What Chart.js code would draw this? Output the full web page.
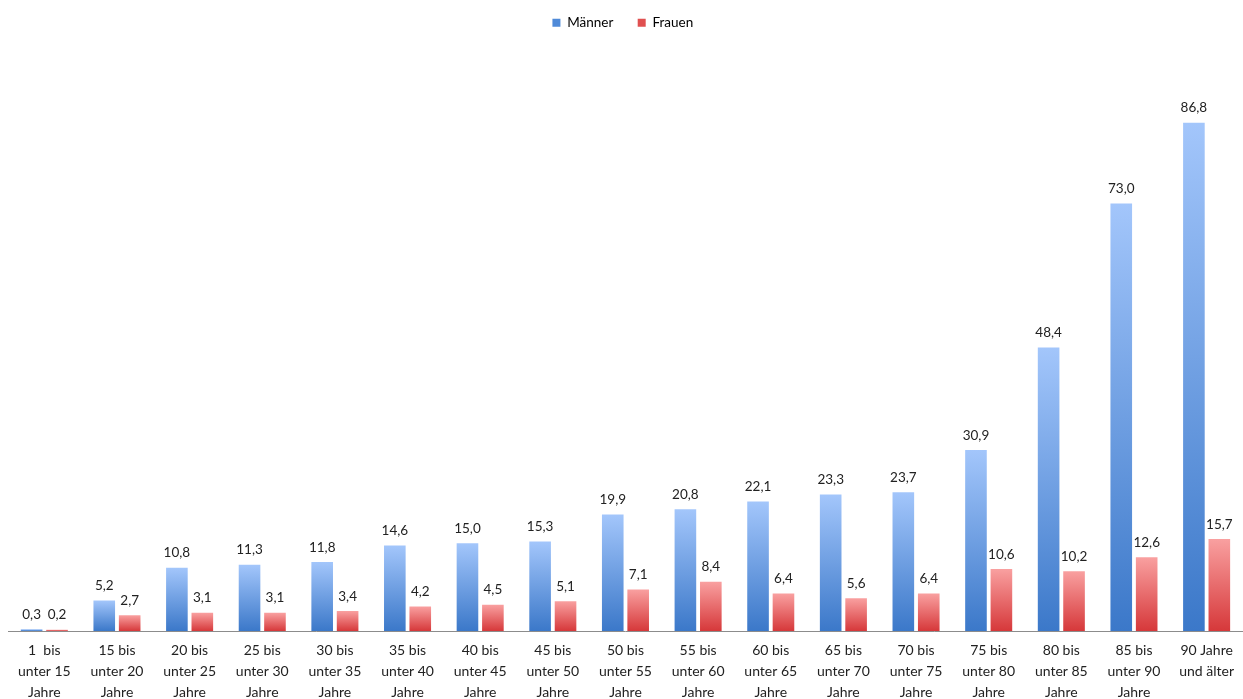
<!DOCTYPE html>
<html>
<head>
<meta charset="utf-8">
<script src="https://cdn.jsdelivr.net/npm/chart.js@4"></script>
<style>
  html, body { margin: 0; padding: 0; background: #fff; }
  #wrap { width: 1243px; height: 699px; }
</style>
</head>
<body>
<div id="wrap"><canvas id="chart"></canvas></div>
<script>
// Altersgruppen
const ageGroups = [
  ['1  bis', 'unter 15', 'Jahre'],
  ['15 bis', 'unter 20', 'Jahre'],
  ['20 bis', 'unter 25', 'Jahre'],
  ['25 bis', 'unter 30', 'Jahre'],
  ['30 bis', 'unter 35', 'Jahre'],
  ['35 bis', 'unter 40', 'Jahre'],
  ['40 bis', 'unter 45', 'Jahre'],
  ['45 bis', 'unter 50', 'Jahre'],
  ['50 bis', 'unter 55', 'Jahre'],
  ['55 bis', 'unter 60', 'Jahre'],
  ['60 bis', 'unter 65', 'Jahre'],
  ['65 bis', 'unter 70', 'Jahre'],
  ['70 bis', 'unter 75', 'Jahre'],
  ['75 bis', 'unter 80', 'Jahre'],
  ['80 bis', 'unter 85', 'Jahre'],
  ['85 bis', 'unter 90', 'Jahre'],
  ['90 Jahre', 'und älter']
];

const maenner = [0.3, 5.2, 10.8, 11.3, 11.8, 14.6, 15.0, 15.3, 19.9, 20.8, 22.1, 23.3, 23.7, 30.9, 48.4, 73.0, 86.8];
const frauen  = [0.2, 2.7, 3.1, 3.1, 3.4, 4.2, 4.5, 5.1, 7.1, 8.4, 6.4, 5.6, 6.4, 10.6, 10.2, 12.6, 15.7];

const fontFamily = 'Lato, "Open Sans", sans-serif';

// gradient per bar, light at top, darker at the axis
function barGradient(context, topColor, bottomColor, flat) {
  const chart = context.chart;
  if (!chart.chartArea || context.raw == null) return flat;
  const y = chart.scales.y;
  const top = y.getPixelForValue(context.raw);
  const bottom = y.getPixelForValue(0);
  if (bottom - top < 1) return flat;
  const g = chart.ctx.createLinearGradient(0, top, 0, bottom);
  g.addColorStop(0, topColor);
  g.addColorStop(1, bottomColor);
  return g;
}

// values above the bars, German decimal comma
const valueLabels = {
  id: 'valueLabels',
  afterDatasetsDraw(chart) {
    const ctx = chart.ctx;
    ctx.save();
    ctx.font = '13.5px ' + fontFamily;
    ctx.fillStyle = '#222';
    ctx.textAlign = 'center';
    ctx.textBaseline = 'bottom';
    chart.data.datasets.forEach((ds, i) => {
      chart.getDatasetMeta(i).data.forEach((bar, j) => {
        const txt = ds.data[j].toFixed(1).replace('.', ',');
        ctx.fillText(txt, bar.x, bar.y - 8);
      });
    });
    ctx.restore();
  }
};

const ctx = document.getElementById('chart').getContext('2d');
new Chart(ctx, {
  type: 'bar',
  data: {
    labels: ageGroups,
    datasets: [
      {
        label: 'Männer',
        data: maenner,
        backgroundColor: c => barGradient(c, '#a3c6fb', '#3b78c9', '#5b93dd')
      },
      {
        label: 'Frauen',
        data: frauen,
        backgroundColor: c => barGradient(c, '#f9a0a0', '#d6383a', '#e56566')
      }
    ]
  },
  options: {
    responsive: true,
    maintainAspectRatio: false,
    animation: false,
    categoryPercentage: 0.7,
    barPercentage: 0.85,
    layout: { padding: { left: 8, right: -5, top: 2, bottom: -13 } },
    plugins: {
      legend: {
        position: 'top',
        labels: {
          boxWidth: 8,
          boxHeight: 8,
          padding: 14,
          color: '#333',
          font: { family: fontFamily, size: 13.5 },
          generateLabels: chart => chart.data.datasets.map((ds, i) => ({
            text: ds.label + '   ',
            fillStyle: i === 0 ? '#4f8ad8' : '#e05050',
            strokeStyle: 'transparent',
            lineWidth: 0,
            datasetIndex: i
          }))
        }
      },
      tooltip: { enabled: false }
    },
    scales: {
      x: {
        grid: { display: false, drawTicks: false },
        border: { display: true, color: '#8c8c8c', width: 1 },
        ticks: {
          autoSkip: false,
          maxRotation: 0,
          color: '#222',
          padding: 9,
          font: { family: fontFamily, size: 14, lineHeight: 1.5 }
        }
      },
      y: {
        display: false,
        min: 0,
        max: 101
      }
    }
  },
  plugins: [valueLabels]
});
</script>
</body>
</html>
